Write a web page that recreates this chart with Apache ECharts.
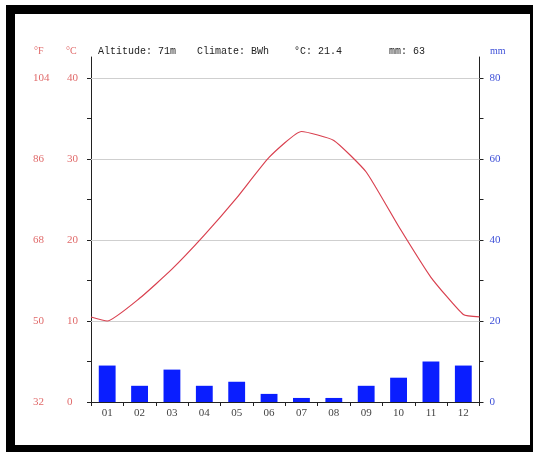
<!DOCTYPE html>
<html>
<head>
<meta charset="utf-8">
<script src="https://cdn.jsdelivr.net/npm/echarts@6/dist/echarts.min.js"></script>
<style>
html,body{margin:0;padding:0;background:#fff;overflow:hidden;}
#chart{position:absolute;left:0;top:0;width:533px;height:452px;}
#frame{position:absolute;left:6px;top:5px;width:515px;height:431px;border:9px solid #000;pointer-events:none;}
</style>
</head>
<body>
<div id="chart"></div>
<div id="frame"></div>
<script>
// ---- data ----
const months = ['01','02','03','04','05','06','07','08','09','10','11','12'];
const tempC = [10.0, 12.8, 16.4, 20.6, 25.2, 30.2, 33.4, 32.3, 28.4, 21.7, 15.4, 10.8];
const tempEdges = [10.5, 10.5];           // curve value at left / right plot edge
const precipMm = [9, 4, 8, 4, 5, 2, 1, 1, 4, 6, 10, 9];
const celsiusTicks = [0, 5, 10, 15, 20, 25, 30, 35, 40];
const celsiusLabels = [0, 10, 20, 30, 40];
const fahrenheitLabels = [32, 50, 68, 86, 104];
const mmTicks = [0, 10, 20, 30, 40, 50, 60, 70, 80];
const mmLabels = [0, 20, 40, 60, 80];
const gridValues = [10, 20, 30, 40];
const infoTexts = ['Altitude: 71m', 'Climate: BWh', '°C: 21.4', 'mm: 63'];

const cMax = 42.6;
const red = '#e06a6a', blue = '#3d4fd8', axisCol = '#222';
const labelFont = {fontFamily: 'Liberation Serif', fontSize: 11};

const lineData = [[0, tempEdges[0]]]
  .concat(tempC.map((v, i) => [i + 0.5, v]))
  .concat([[months.length, tempEdges[1]]]);

const chart = echarts.init(document.getElementById('chart'), null, {renderer: 'canvas'});
const infoX = [98, 197, 294, 389];
chart.setOption({
  animation: false,
  backgroundColor: '#fff',
  grid: {left: 91, right: 53.5, top: 57, bottom: 50},
  graphic: [
    {type: 'text', left: 34, top: 46, style: {text: '°F', fill: red, font: '10px Liberation Serif'}},
    {type: 'text', left: 66, top: 46, style: {text: '°C', fill: red, font: '10px Liberation Serif'}},
    {type: 'text', left: 490, top: 46, style: {text: 'mm', fill: blue, font: '10px Liberation Serif'}}
  ].concat(infoTexts.map((t, i) => ({
    type: 'text', left: infoX[i], top: 46,
    style: {text: t, fill: '#222', font: '10px Liberation Mono'}
  }))),
  xAxis: [
    {
      type: 'category', data: months, position: 'bottom',
      axisLine: {lineStyle: {color: axisCol, width: 1}},
      axisTick: {show: true, length: 4, lineStyle: {color: axisCol}},
      axisLabel: Object.assign({color: '#444', margin: 6}, labelFont),
      splitLine: {show: false}
    },
    {
      type: 'value', min: 0, max: months.length, show: false
    }
  ],
  yAxis: [
    {
      type: 'value', min: 0, max: cMax, position: 'left',
      axisLine: {show: true, lineStyle: {color: axisCol, width: 1}},
      axisTick: {show: true, length: 4, customValues: celsiusTicks, lineStyle: {color: axisCol}},
      axisLabel: Object.assign({color: red, align: 'left', margin: 24, customValues: celsiusLabels}, labelFont),
      splitLine: {show: false}
    },
    {
      type: 'value', min: 0, max: cMax * 2, position: 'right',
      axisLine: {show: true, lineStyle: {color: axisCol, width: 1}},
      axisTick: {show: true, length: 4, customValues: mmTicks, lineStyle: {color: axisCol}},
      axisLabel: Object.assign({color: blue, align: 'left', margin: 10, customValues: mmLabels}, labelFont),
      splitLine: {show: false}
    },
    {
      type: 'value', min: 32, max: 32 + cMax * 1.8, position: 'left',
      axisLine: {show: false}, axisTick: {show: false},
      axisLabel: Object.assign({color: red, align: 'left', margin: 58, customValues: fahrenheitLabels}, labelFont),
      splitLine: {show: false}
    }
  ],
  series: [
    {
      type: 'bar', xAxisIndex: 0, yAxisIndex: 1, data: precipMm,
      barWidth: '52%', itemStyle: {color: '#0a1eff'}, z: 2
    },
    {
      type: 'line', xAxisIndex: 1, yAxisIndex: 0, data: lineData,
      showSymbol: false, symbol: 'none', smooth: 0.15,
      lineStyle: {color: '#d9404f', width: 1.2}, z: 3,
      markLine: {
        silent: true, symbol: 'none', label: {show: false},
        lineStyle: {color: '#cfcfcf', type: 'solid', width: 1},
        data: gridValues.map(v => ({yAxis: v})), z: 1
      }
    }
  ]
});
</script>
</body>
</html>
